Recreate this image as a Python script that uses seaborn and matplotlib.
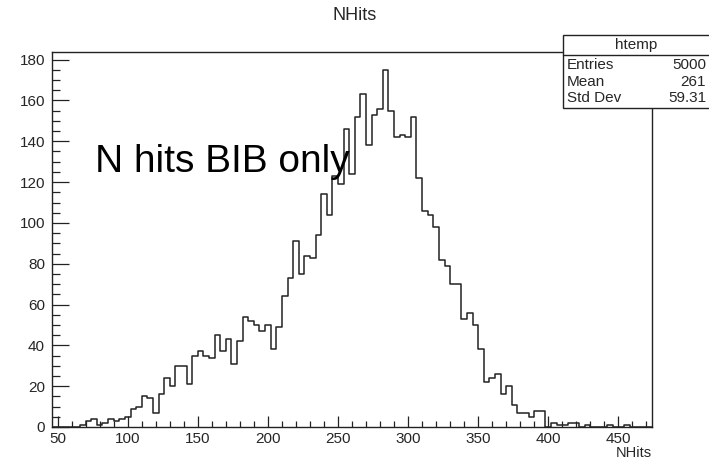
import matplotlib
matplotlib.use("Agg")
import matplotlib.pyplot as plt
from matplotlib.patches import Rectangle
from matplotlib.ticker import MultipleLocator
import numpy as np
import pandas as pd
import seaborn as sns

# Histogram binning: 107 bins of width 4 from 46 to 474
x_min = 46
x_max = 474
bin_width = 4

# Counts per bin (NHits, BIB only)
counts = [
    0, 0, 0, 0, 0, 1, 3, 4, 1, 2,
    4, 3, 4, 5, 9, 10, 15, 14, 7, 16,
    24, 20, 30, 30, 21, 35, 37, 35, 34, 45,
    37, 43, 31, 42, 54, 52, 50, 47, 50, 38,
    49, 64, 73, 91, 75, 84, 83, 94, 114, 104,
    123, 119, 146, 124, 152, 163, 138, 153, 156, 175,
    155, 142, 143, 142, 152, 122, 106, 104, 98, 82,
    79, 70, 70, 53, 56, 50, 38, 22, 24, 26,
    16, 20, 11, 7, 7, 5, 8, 8, 0, 2,
    1, 1, 2, 2, 0, 1, 0, 0, 0, 1,
    0, 0, 1, 0, 0, 0, 0,
]

# Stats box contents
stats_name = "htemp"
stats_labels = ["Entries", "Mean", "Std Dev"]
stats_values = ["5000", "261", "59.31"]

x_ticks = [50, 100, 150, 200, 250, 300, 350, 400, 450]
y_ticks = [0, 20, 40, 60, 80, 100, 120, 140, 160, 180]

centers = x_min + bin_width * (np.arange(len(counts)) + 0.5)
df = pd.DataFrame({"NHits": centers, "n": np.asarray(counts, dtype=float)})

sns.set_style("ticks")
plt.rcParams["font.family"] = ["Liberation Sans", "DejaVu Sans"]

W, H = 709, 462
fig = plt.figure(figsize=(W / 100, H / 100), dpi=100)
ax = fig.add_axes([52 / W, 1 - 427 / H, 600 / W, 375 / H])

sns.histplot(data=df, x="NHits", weights="n", binwidth=bin_width,
             binrange=(x_min, x_max), element="step", fill=False,
             color="#222222", linewidth=1.1, ax=ax)

ax.set_xlim(x_min, x_max)
ax.set_ylim(0, max(counts) * 1.05)
ax.set_xlabel("")
ax.set_ylabel("")

ax.set_xticks(x_ticks)
ax.set_yticks(y_ticks)
ax.xaxis.set_minor_locator(MultipleLocator(10))
ax.yaxis.set_minor_locator(MultipleLocator(5))
ax.xaxis.set_tick_params(which="major", direction="in", length=8, width=0.9,
                         labelsize=11, pad=3.5, color="#222222")
ax.xaxis.set_tick_params(which="minor", direction="in", length=4, width=0.9,
                         color="#222222")
ax.yaxis.set_tick_params(which="major", direction="in", length=12, width=0.9,
                         labelsize=11, pad=5, color="#222222")
ax.yaxis.set_tick_params(which="minor", direction="in", length=5.5, width=0.9,
                         color="#222222")
for side in ["top", "right", "bottom", "left"]:
    ax.spines[side].set_visible(True)
    ax.spines[side].set_color("#222222")
    ax.spines[side].set_linewidth(1)

ax.text(77, 125, "N hits BIB only", fontsize=28, ha="left", va="baseline",
        color="black")

# Title and axis label
fig.text(354.5 / W, 1 - 16 / H, "NHits", ha="center", va="center", fontsize=13)
fig.text(652 / W, 1 - 453 / H, "NHits", ha="right", va="center", fontsize=10.5)

# Stats box
box_l, box_t, box_b = 563, 35, 108
fig.add_artist(Rectangle((box_l / W, 1 - box_b / H), (W - box_l + 5) / W,
                         (box_b - box_t) / H, transform=fig.transFigure,
                         facecolor="white", edgecolor="#222222", lw=1,
                         zorder=5))
fig.add_artist(plt.Line2D([box_l / W, 1.0], [1 - 55 / H, 1 - 55 / H],
                          transform=fig.transFigure, color="#222222", lw=1,
                          zorder=6))
fig.text(636 / W, 1 - 45 / H, stats_name, ha="center", va="center",
         fontsize=11, zorder=7)
for k, (lab, val) in enumerate(zip(stats_labels, stats_values)):
    y = 1 - (65 + 16.6 * k) / H
    fig.text(567 / W, y, lab, ha="left", va="center", fontsize=11, zorder=7)
    fig.text(706 / W, y, val, ha="right", va="center", fontsize=11, zorder=7)

fig.savefig("out.png", dpi=100, facecolor="white")
